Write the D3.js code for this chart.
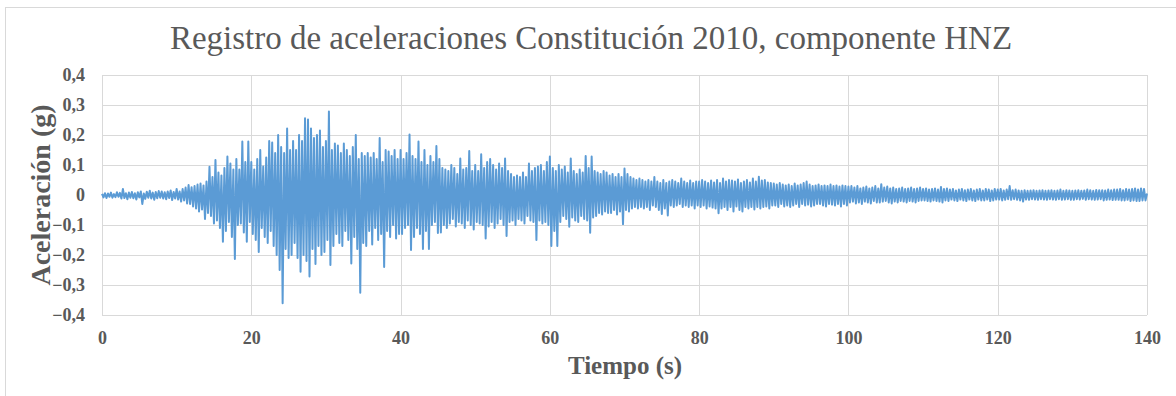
<!DOCTYPE html>
<html>
<head>
<meta charset="utf-8">
<script src="https://cdn.jsdelivr.net/npm/d3@7/dist/d3.min.js"></script>
<style>
  html, body { margin: 0; padding: 0; background: #ffffff; }
  svg { display: block; }
  text { font-family: "Liberation Serif", "Times New Roman", serif; fill: #595959; }
</style>
</head>
<body>
<svg id="chart" width="1176" height="396"></svg>
<script>
// Accelerogram, Constitución 2010 (HNZ component), sampled every 0.2 s, values in g
const sampleStep = 0.2;
const accel = [
  // 0 - 10 s
  .004,-.008,.006,-.010,.005,-.006,.008,-.009,.003,-.007,
  .009,-.006,.007,-.012,.020,-.010,.006,-.014,.008,-.009,
  .010,-.011,.006,-.015,.009,-.008,.012,-.030,.005,-.013,
  .011,-.009,.014,-.012,.008,-.016,.010,-.011,.013,-.009,
  .012,-.012,.009,-.014,.012,-.010,.015,-.017,.010,-.012,
  // 10 - 20 s
  .020,-.015,.012,-.022,.020,-.018,.025,-.028,.033,-.030,
  .026,-.038,.030,-.045,.035,-.055,.038,-.048,.032,-.080,
  .045,-.060,.094,-.070,.060,-.095,.117,-.085,.075,-.110,
  .065,-.156,.090,-.120,.128,-.090,.105,-.140,.085,-.213,
  .120,-.100,.085,-.095,.178,-.125,.110,-.156,.178,-.090,
  // 20 - 30 s
  .110,-.130,.085,-.150,.120,-.190,.150,-.110,.095,-.140,
  .125,-.160,.180,-.120,.175,-.170,.140,-.200,.200,-.250,
  .160,-.361,.140,-.180,.222,-.210,.150,-.200,.180,-.160,
  .150,-.210,.200,-.256,.180,-.200,.256,-.220,.252,-.272,
  .222,-.180,.190,-.230,.200,-.170,.215,-.200,.160,-.190,
  // 30 - 40 s
  .180,-.150,.278,-.233,.150,-.170,.172,-.130,.165,-.160,
  .140,-.170,.172,-.120,.150,-.150,.130,-.228,.160,-.140,
  .200,-.180,.120,-.326,.140,-.160,.130,-.170,.140,-.120,
  .125,-.165,.140,-.110,.120,-.150,.190,-.130,.110,-.240,
  .150,-.120,.145,-.140,.130,-.100,.150,-.145,.120,-.130,
  // 40 - 50 s
  .150,-.130,.120,-.110,.140,-.100,.202,-.183,.130,-.140,
  .120,-.110,.178,-.130,.110,-.180,.150,-.120,.100,-.180,
  .130,-.100,.110,-.090,.163,-.127,.120,-.125,.090,-.100,
  .085,-.110,.080,-.095,.100,-.080,.090,-.105,.070,-.090,
  .122,-.095,.085,-.110,.090,-.085,.147,-.100,.080,-.115,
  // 50 - 60 s
  .100,-.090,.080,-.095,.136,-.100,.090,-.145,.110,-.105,
  .120,-.090,.100,-.110,.085,-.095,.105,-.080,.090,-.100,
  .122,-.137,.080,-.090,.070,-.085,.060,-.100,.065,-.080,
  .060,-.085,.075,-.095,.060,-.070,.105,-.085,.080,-.090,
  .090,-.150,.095,-.085,.100,-.095,.080,-.090,.110,-.100,
  // 60 - 70 s
  .128,-.170,.090,-.120,.080,-.170,.100,-.090,.085,-.070,
  .095,-.080,.075,-.106,.122,-.075,.080,-.085,.070,-.090,
  .085,-.070,.075,-.080,.130,-.085,.090,-.126,.128,-.075,
  .080,-.070,.075,-.060,.070,-.065,.080,-.055,.075,-.060,
  .065,-.060,.070,-.050,.060,-.065,.070,-.055,.060,-.097,
  // 70 - 80 s
  .088,-.050,.070,-.055,.060,-.045,.055,-.040,.050,-.045,
  .055,-.040,.050,-.045,.045,-.040,.050,-.050,.045,-.035,
  .060,-.040,.045,-.050,.040,-.063,.050,-.045,.040,-.068,
  .045,-.035,.050,-.040,.045,-.035,.040,-.030,.055,-.040,
  .045,-.035,.040,-.040,.048,-.035,.040,-.045,.045,-.035,
  // 80 - 90 s
  .045,-.040,.050,-.035,.045,-.045,.040,-.038,.048,-.042,
  .042,-.045,.050,-.061,.040,-.045,.055,-.040,.045,-.050,
  .050,-.040,.048,-.055,.045,-.038,.052,-.050,.040,-.055,
  .045,-.040,.050,-.045,.042,-.040,.055,-.048,.045,-.040,
  .061,-.045,.048,-.040,.050,-.038,.042,-.045,.040,-.035,
  // 90 - 100 s
  .038,-.035,.035,-.040,.040,-.030,.035,-.038,.032,-.035,
  .035,-.040,.030,-.035,.038,-.030,.032,-.040,.035,-.030,
  .040,-.035,.045,-.032,.035,-.038,.030,-.035,.032,-.030,
  .035,-.030,.030,-.035,.032,-.038,.030,-.030,.035,-.032,
  .030,-.035,.032,-.030,.028,-.038,.032,-.030,.030,-.035,
  // 100 - 110 s
  .028,-.025,.030,-.022,.025,-.028,.030,-.025,.022,-.030,
  .025,-.022,.028,-.025,.022,-.028,.025,-.020,.030,-.025,
  .022,-.025,.036,-.022,.025,-.020,.028,-.025,.022,-.028,
  .025,-.022,.020,-.025,.022,-.020,.025,-.022,.020,-.025,
  .022,-.020,.025,-.022,.020,-.025,.022,-.020,.025,-.018,
  // 110 - 120 s
  .020,-.018,.022,-.020,.018,-.022,.020,-.018,.022,-.020,
  .018,-.022,.027,-.025,.020,-.018,.022,-.020,.018,-.015,
  .020,-.018,.015,-.020,.018,-.015,.020,-.018,.016,-.020,
  .018,-.015,.020,-.018,.015,-.020,.018,-.015,.020,-.018,
  .015,-.018,.020,-.015,.018,-.020,.015,-.018,.020,-.015,
  // 120 - 130 s
  .018,-.015,.020,-.018,.015,-.016,.018,-.014,.030,-.016,
  .016,-.014,.018,-.016,.015,-.018,.014,-.022,.016,-.015,
  .014,-.016,.015,-.014,.016,-.015,.014,-.016,.015,-.014,
  .016,-.015,.014,-.016,.015,-.014,.016,-.015,.014,-.016,
  .015,-.014,.018,-.016,.014,-.015,.016,-.014,.015,-.016,
  // 130 - 140 s
  .014,-.016,.015,-.014,.016,-.015,.014,-.013,.015,-.016,
  .018,-.014,.016,-.015,.014,-.016,.017,-.015,.016,-.014,
  .016,-.018,.015,-.016,.018,-.015,.016,-.017,.018,-.016,
  .018,-.016,.020,-.018,.016,-.018,.020,-.016,.018,-.020,
  .020,-.018,.022,-.020,.018,-.020,.022,-.018,.020,-.018,
  .005
];

const xTicks = [0, 20, 40, 60, 80, 100, 120, 140];
const yTicks = [-0.4, -0.3, -0.2, -0.1, 0, 0.1, 0.2, 0.3, 0.4];

const titleText = "Registro de aceleraciones Constitución 2010, componente HNZ";
const xTitle = "Tiempo (s)";
const yTitle = "Aceleración (g)";

const svg = d3.select("#chart");
const plot = { left: 102, right: 1147, top: 75, bottom: 315 };

// chart frame
svg.append("rect")
  .attr("x", 5.5).attr("y", 7.5)
  .attr("width", 1300).attr("height", 500)
  .attr("fill", "none").attr("stroke", "#d9d9d9").attr("stroke-width", 1);

const x = d3.scaleLinear().domain([0, 140]).range([plot.left, plot.right]);
const y = d3.scaleLinear().domain([-0.4, 0.4]).range([plot.bottom, plot.top]);

const fmt = v => (v === 0 ? "0" : d3.format(".1f")(v).replace(".", ","));

// gridlines
const grid = svg.append("g");
grid.selectAll("line.h").data(yTicks).join("line")
  .attr("x1", plot.left).attr("x2", plot.right)
  .attr("y1", d => Math.round(y(d)) + 0.5).attr("y2", d => Math.round(y(d)) + 0.5)
  .attr("stroke", "#d9d9d9").attr("stroke-width", 1);
grid.selectAll("line.v").data(xTicks).join("line")
  .attr("y1", plot.top).attr("y2", plot.bottom)
  .attr("x1", d => Math.round(x(d)) + 0.5).attr("x2", d => Math.round(x(d)) + 0.5)
  .attr("stroke", "#d9d9d9").attr("stroke-width", 1);

// axes (labels only, lines are the grid)
const yAxis = svg.append("g")
  .attr("transform", `translate(${plot.left},0)`)
  .call(d3.axisLeft(y).tickValues(yTicks).tickFormat(fmt).tickSize(0).tickPadding(17));
yAxis.select(".domain").remove();
yAxis.selectAll("text")
  .style("font-family", "'Liberation Serif', serif")
  .style("font-size", "18px").style("font-weight", "bold").attr("fill", "#595959");

const xAxis = svg.append("g")
  .attr("transform", `translate(0,${plot.bottom})`)
  .call(d3.axisBottom(x).tickValues(xTicks).tickFormat(d3.format("d")).tickSize(0).tickPadding(16));
xAxis.select(".domain").remove();
xAxis.selectAll("text")
  .style("font-family", "'Liberation Serif', serif")
  .style("font-size", "18px").style("font-weight", "bold").attr("fill", "#595959");

// signal
const line = d3.line()
  .x((d, i) => x(i * sampleStep))
  .y(d => y(d));

svg.append("path")
  .datum(accel)
  .attr("d", line)
  .attr("fill", "none")
  .attr("stroke", "#5b9bd5")
  .attr("stroke-width", 2)
  .attr("stroke-linejoin", "round");

// titles
svg.append("text")
  .attr("x", 591).attr("y", 49)
  .attr("text-anchor", "middle")
  .style("font-size", "33px")
  .text(titleText);

svg.append("text")
  .attr("x", 625).attr("y", 374)
  .attr("text-anchor", "middle")
  .style("font-size", "25px").style("font-weight", "bold")
  .text(xTitle);

svg.append("text")
  .attr("transform", `translate(50,${(plot.top + plot.bottom) / 2}) rotate(-90)`)
  .attr("text-anchor", "middle")
  .style("font-size", "28px").style("font-weight", "bold")
  .text(yTitle);
</script>
</body>
</html>
